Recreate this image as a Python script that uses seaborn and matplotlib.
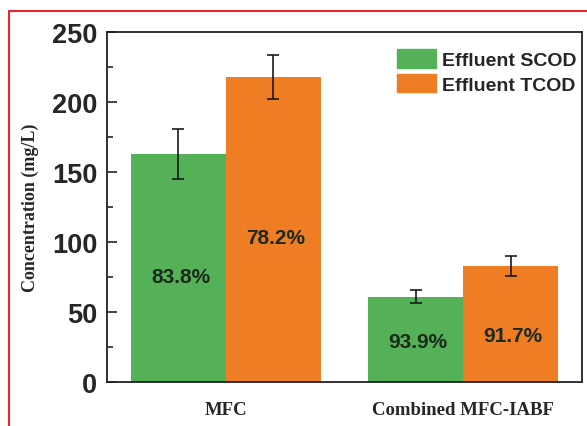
import matplotlib
matplotlib.use("Agg")
import matplotlib.pyplot as plt
import pandas as pd
import seaborn as sns
from matplotlib.ticker import MultipleLocator
from matplotlib.lines import Line2D

# Data
groups = ["MFC", "Combined MFC-IABF"]
series = ["Effluent SCOD", "Effluent TCOD"]
scod = [163, 61]
tcod = [218, 83]
scod_err = [18, 4.4]
tcod_err = [15.7, 7]
scod_pct = ["83.8%", "93.9%"]
tcod_pct = ["78.2%", "91.7%"]
scod_pct_y = [75, 29]
tcod_pct_y = [103.5, 33.5]

colors = ["#54b158", "#ee7d24"]

df = pd.DataFrame({
    "group": groups * 2,
    "type": [series[0]] * 2 + [series[1]] * 2,
    "value": scod + tcod,
})

sns.set_style("ticks")
plt.rcParams["font.family"] = ["Liberation Sans", "DejaVu Sans"]

fig = plt.figure(figsize=(5.87, 4.27), dpi=100)
ax = fig.add_axes([107 / 587, 1 - 383 / 427, 475 / 587, 350 / 427])

sns.barplot(data=df, x="group", y="value", hue="type", order=groups,
            hue_order=series, palette=colors, width=0.8, saturation=1,
            errorbar=None, linewidth=0, ax=ax)

# error bars and percentage labels
offsets = [-0.2, 0.2]
for k, (vals, errs, pcts, pys) in enumerate([(scod, scod_err, scod_pct, scod_pct_y),
                                             (tcod, tcod_err, tcod_pct, tcod_pct_y)]):
    xs = [i + offsets[k] for i in range(len(groups))]
    ax.errorbar(xs, vals, yerr=errs, fmt="none", ecolor="#1a1a1a",
                elinewidth=1.2, capsize=4, capthick=1.2)
    for x, y, t in zip(xs, pys, pcts):
        ax.text(x + 0.01, y, t, ha="center", va="center", fontsize=15,
                fontweight="bold", color="#1c2a1c")

ax.set_xlim(-0.5, 1.5)
ax.set_ylim(0, 250)
ax.yaxis.set_major_locator(MultipleLocator(50))
ax.yaxis.set_minor_locator(MultipleLocator(25))
ax.tick_params(axis="y", which="major", direction="in", length=7, width=1.2,
               labelsize=19.5, pad=7)
ax.tick_params(axis="y", which="minor", direction="in", length=4, width=1.2)
ax.tick_params(axis="x", length=0, pad=14)
for lbl in ax.get_yticklabels():
    lbl.set_fontweight("bold")
for lbl in ax.get_xticklabels():
    lbl.set_fontfamily("Liberation Serif")
    lbl.set_fontweight("bold")
    lbl.set_fontsize(13.5)

for sp in ax.spines.values():
    sp.set_visible(True)
    sp.set_linewidth(1.3)
    sp.set_color("#222222")

ax.set_xlabel("")
ax.set_ylabel("Concentration (mg/L)", family="Liberation Serif",
              fontweight="bold", fontsize=13)
ax.yaxis.set_label_coords(-68 / 475, 0.5)

handles = [plt.Rectangle((0, 0), 1, 1, color=c) for c in colors]
leg = ax.legend(handles, series, loc="upper right", frameon=False,
                prop={"weight": "bold", "size": 14}, handlelength=2.0,
                handleheight=1.1, handletextpad=0.3, labelspacing=0.25,
                borderaxespad=0.2, bbox_to_anchor=(1.013, 0.985))

# red frame around the figure
fig.add_artist(Line2D([9 / 587, 9 / 587], [0, 1 - 12 / 427],
                      transform=fig.transFigure, color="#e8262b", lw=1.5))
fig.add_artist(Line2D([9 / 587, 1], [1 - 12 / 427, 1 - 12 / 427],
                      transform=fig.transFigure, color="#e8262b", lw=1.5))

fig.savefig("out.png", dpi=100)
